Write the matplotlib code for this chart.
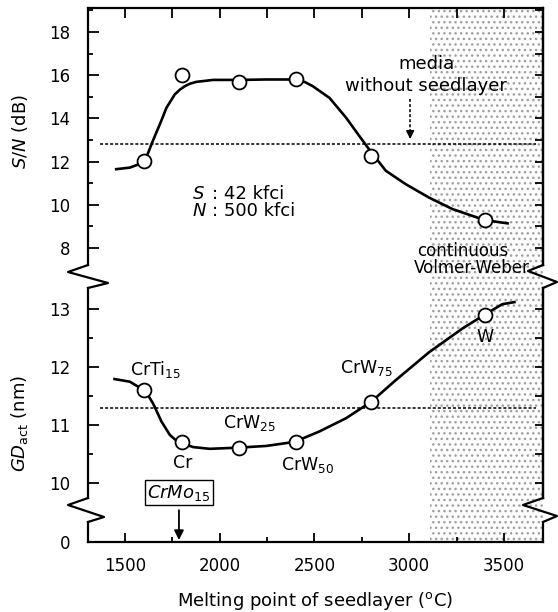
"""Seedlayer melting point vs S/N and grain diameter"""

import numpy as np
import matplotlib.pyplot as plt
from matplotlib.lines import Line2D
from matplotlib.ticker import MultipleLocator

# measured seedlayers
MELT = [1600, 1800, 2100, 2400, 2800, 3400]
SN = [12.03, 16.03, 15.69, 15.82, 12.26, 9.29]
GD = [11.61, 10.71, 10.61, 10.70, 11.40, 12.91]
SEEDS = ["CrTi$_{15}$", "Cr", "CrW$_{25}$", "CrW$_{50}$", "CrW$_{75}$", "W"]
SEED_LABEL_X = [1526, 1753, 2016, 2326, 2637, 3353]
SEED_LABEL_Y = [11.86, 10.26, 10.95, 10.22, 11.90, 12.43]

# guide-to-the-eye curves
SN_CURVE_X = [1447, 1526, 1575, 1597, 1620, 1640, 1662, 1684, 1719, 1763, 1790,
              1816, 1845, 1877, 1965, 2105, 2246, 2395, 2450, 2491, 2579, 2667,
              2737, 2798, 2877, 2982, 3105, 3228, 3398, 3526]
SN_CURVE_Y = [11.64, 11.72, 11.88, 12.03, 12.35, 12.80, 13.27, 13.72, 14.49, 15.11, 15.33,
              15.49, 15.61, 15.69, 15.78, 15.78, 15.80, 15.80, 15.68, 15.49, 14.95, 14.03,
              13.18, 12.45, 11.57, 10.95, 10.33, 9.80, 9.29, 9.13]
GD_CURVE_X = [1438, 1526, 1597, 1625, 1649, 1693, 1737, 1765, 1798, 1860, 1947,
              2096, 2246, 2395, 2526, 2667, 2798, 2930, 3105, 3281, 3398, 3491, 3562]
GD_CURVE_Y = [11.80, 11.75, 11.61, 11.50, 11.37, 11.06, 10.83, 10.75, 10.69, 10.62, 10.59,
              10.61, 10.64, 10.71, 10.89, 11.12, 11.40, 11.78, 12.26, 12.67, 12.91, 13.09, 13.13]

# reference levels (media without seedlayer)
SN_REF = 12.8
GD_REF = 11.3
REF_X = [1368, 3668]

SHADE_FROM = 3110
CRMO_MELT = 1785

XLIM = (1305, 3706)

W, H = 558, 612
LW = 1.6


def box(x0, y0, x1, y1):
    """pixel box -> figure fraction rect"""
    return [x0 / W, 1 - y1 / H, (x1 - x0) / W, (y1 - y0) / H]


def pix_line(points):
    xs = [p[0] / W for p in points]
    ys = [1 - p[1] / H for p in points]
    return Line2D(xs, ys, transform=fig.transFigure, color="black", lw=LW)


fig = plt.figure(figsize=(W / 100, H / 100), dpi=100)

ax_bg = fig.add_axes(box(88, 8, 543, 542), zorder=0)
ax_sn = fig.add_axes(box(88, 8, 543, 265), zorder=1)
ax_gd = fig.add_axes(box(88, 288, 543, 498), zorder=1)
ax_0 = fig.add_axes(box(88, 522, 543, 542), zorder=1)

# stippled region
ax_bg.set_xlim(XLIM)
ax_bg.axvspan(SHADE_FROM, XLIM[1], facecolor="#fdfdfd", edgecolor="#a0a0a0",
              hatch="...", lw=0)
ax_bg.axis("off")

for ax in (ax_sn, ax_gd, ax_0):
    ax.set_xlim(XLIM)
    ax.patch.set_visible(False)
    for sp in ax.spines.values():
        sp.set_linewidth(LW)

ax_sn.spines["bottom"].set_visible(False)
ax_gd.spines["top"].set_visible(False)
ax_gd.spines["bottom"].set_visible(False)
ax_0.spines["top"].set_visible(False)

tick_kw = dict(direction="in", width=1.3, labelsize=12, pad=13)

# --- S/N panel
ax_sn.set_ylim(7.21, 19.11)
ax_sn.yaxis.set_major_locator(MultipleLocator(2))
ax_sn.yaxis.set_minor_locator(MultipleLocator(1))
ax_sn.tick_params(axis="y", which="major", length=8, right=False, **tick_kw)
ax_sn.tick_params(axis="y", which="minor", length=3.8, right=False, direction="in", width=1.3)
ax_sn.xaxis.set_ticks_position("top")
ax_sn.xaxis.set_major_locator(MultipleLocator(250))
ax_sn.tick_params(axis="x", which="major", length=7, width=1.3, direction="in",
                  labeltop=False, bottom=False)
ax_sn.tick_params(axis="x", which="minor", top=False, bottom=False)
sec = ax_sn.secondary_yaxis("right")
sec.set_yticks(np.arange(8, 20))
sec.tick_params(direction="in", length=5.5, width=1.3, labelright=False)
sec.spines["right"].set_linewidth(LW)

ax_sn.plot(REF_X, [SN_REF, SN_REF], color="black", lw=1.1, ls=(0, (2, 1.3)))
ax_sn.plot(SN_CURVE_X, SN_CURVE_Y, color="black", lw=1.9, solid_capstyle="butt")
ax_sn.plot(MELT, SN, "o", ms=10, mfc="white", mec="black", mew=1.3)

ax_sn.set_ylabel("$S/N$ (dB)", fontsize=13)
ax_sn.yaxis.set_label_coords(-0.128, 0.521)

ax_sn.text(3089, 16.28, "media", fontsize=13, ha="center", va="baseline")
ax_sn.text(3089, 15.26, "without seedlayer", fontsize=13, ha="center", va="baseline")
ax_sn.plot([3005, 3005], [14.9, 13.4], color="black", lw=1.1, ls=(0, (2, 1.3)))
ax_sn.annotate("", xy=(3005, 13.04), xytext=(3005, 13.45),
               arrowprops=dict(arrowstyle="-|>", color="black", lw=1.1,
                               mutation_scale=12, shrinkA=0, shrinkB=0))

ax_sn.text(1853, 10.28, "$S$", fontsize=13, va="baseline")
ax_sn.text(1960, 10.28, ": 42 kfci", fontsize=13, va="baseline")
ax_sn.text(1853, 9.49, "$N$", fontsize=13, va="baseline")
ax_sn.text(1960, 9.49, ": 500 kfci", fontsize=13, va="baseline")

ax_sn.text(3284, 7.62, "continuous", fontsize=12, ha="center", va="baseline")
ax_sn.text(3331, 6.86, "Volmer-Weber", fontsize=12, ha="center", va="baseline")

# --- GD panel
ax_gd.set_ylim(9.74, 13.37)
ax_gd.yaxis.set_major_locator(MultipleLocator(1))
ax_gd.yaxis.set_minor_locator(MultipleLocator(0.5))
ax_gd.tick_params(axis="y", which="major", length=8, right=False, **tick_kw)
ax_gd.tick_params(axis="y", which="minor", length=3.8, right=False, direction="in", width=1.3)
ax_gd.tick_params(axis="x", which="both", bottom=False, top=False, labelbottom=False)
sec2 = ax_gd.secondary_yaxis("right")
sec2.set_yticks(np.arange(10, 13.5, 0.5))
sec2.tick_params(direction="in", length=5.5, width=1.3, labelright=False)
sec2.spines["right"].set_linewidth(LW)

ax_gd.plot(REF_X, [GD_REF, GD_REF], color="black", lw=1.1, ls=(0, (2, 1.3)))
ax_gd.plot(GD_CURVE_X, GD_CURVE_Y, color="black", lw=1.9, solid_capstyle="butt")
ax_gd.plot(MELT, GD, "o", ms=10, mfc="white", mec="black", mew=1.3)
for name, lx, ly in zip(SEEDS, SEED_LABEL_X, SEED_LABEL_Y):
    ax_gd.text(lx, ly, name, fontsize=12.5, va="baseline")

ax_gd.set_ylabel(r"$GD_{\mathrm{act}}$ (nm)", fontsize=13)
ax_gd.yaxis.set_label_coords(-0.128, 0.357)

# --- zero stub with x axis
ax_0.set_ylim(0, 1)
ax_0.set_yticks([0])
ax_0.tick_params(axis="y", length=8, right=False, **tick_kw)
ax_0.xaxis.set_major_locator(MultipleLocator(500))
ax_0.xaxis.set_minor_locator(MultipleLocator(250))
ax_0.tick_params(axis="x", which="major", length=6.5, width=1.3, direction="in",
                 labelsize=12, pad=11)
ax_0.tick_params(axis="x", which="minor", length=3.6, width=1.3, direction="in")
ax_0.set_xlabel("Melting point of seedlayer ($^\\mathrm{o}$C)", fontsize=13)
ax_0.xaxis.set_label_coords(0.5, -2.4)

ax_0.annotate("$CrMo_{15}$", xy=(CRMO_MELT, 0.1), xytext=(0, 34),
              textcoords="offset points", fontsize=13, ha="center", va="center",
              bbox=dict(boxstyle="square,pad=0.15", fc="white", ec="black", lw=1),
              arrowprops=dict(arrowstyle="-|>", color="black", lw=1.3,
                              mutation_scale=14, shrinkA=3, shrinkB=0),
              annotation_clip=False)

# axis breaks
fig.add_artist(pix_line([(88, 265), (68, 272), (108, 283), (88, 288)]))
fig.add_artist(pix_line([(543, 265), (528, 271), (557, 282), (543, 288)]))
fig.add_artist(pix_line([(88, 498), (68, 505), (104, 517), (88, 522)]))
fig.add_artist(pix_line([(543, 498), (523, 505), (557, 516), (543, 522)]))

fig.savefig("out.png", dpi=100)
